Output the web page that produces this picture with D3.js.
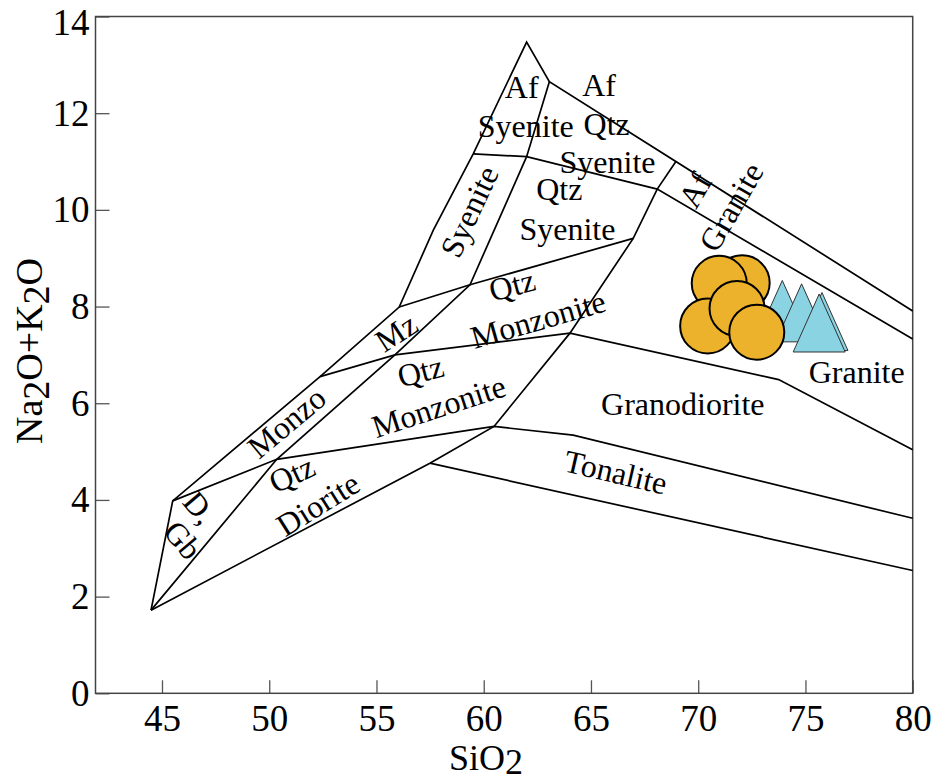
<!DOCTYPE html>
<html>
<head>
<meta charset="utf-8">
<script src="https://cdn.jsdelivr.net/npm/d3@7"></script>
<style>
  body { margin: 0; background: #fff; }
  svg { display: block; }
</style>
</head>
<body>
<div id="chart"></div>
<script>
// axis ticks
const xTicks = [45, 50, 55, 60, 65, 70, 75, 80];
const yTicks = [0, 2, 4, 6, 8, 10, 12, 14];

// field boundaries, [SiO2, Na2O+K2O]
const outerLeft = [[44.49, 1.72], [45.5, 3.98], [52.37, 6.55], [56.06, 7.99], [57.65, 9.58], [59.51, 11.16], [62.0, 13.47], [63.06, 12.65], [80, 7.91]];
const spine = [[44.49, 1.72], [50.35, 4.84], [55.86, 7.0], [59.36, 8.45], [62.0, 11.10], [63.06, 12.65]];
const qtzDioriteTop = [[45.5, 3.98], [50.35, 4.84], [60.48, 5.52], [64.17, 5.34], [80, 3.62]];
const monzoTop = [[52.37, 6.55], [55.86, 7.0], [64.02, 7.45], [73.75, 6.49], [80, 5.04]];
const mzTop = [[56.06, 7.99], [59.36, 8.45], [66.97, 9.41]];
const afSyeniteBase = [[59.51, 11.16], [62.0, 11.10], [68.09, 10.43], [80, 7.33]];
const graniteEdge = [[44.49, 1.72], [57.49, 4.76], [60.48, 5.52], [64.02, 7.45], [66.97, 9.41], [68.09, 10.43], [68.96, 11.0]];
const tonaliteBase = [[57.49, 4.76], [80, 2.54]];
const boundaries = [outerLeft, spine, qtzDioriteTop, monzoTop, mzTop, afSyeniteBase, graniteEdge, tonaliteBase];

// samples
const circleSiO2 = [72.05, 70.98, 70.44, 71.81, 72.73];
const circleAlk = [8.49, 8.48, 7.60, 7.96, 7.47];
const triSiO2 = [73.92, 74.82, 75.77, 75.64];
const triAlk = [7.94, 7.87, 7.69, 7.66];

// field names
const labels = [
  { t: 'Af', x: 61.77, y: 12.52, r: 0 },
  { t: 'Syenite', x: 61.96, y: 11.71, r: 0 },
  { t: 'Af', x: 65.38, y: 12.56, r: 0 },
  { t: 'Qtz', x: 65.73, y: 11.76, r: 0 },
  { t: 'Syenite', x: 65.77, y: 10.97, r: 0 },
  { t: 'Syenite', x: 59.36, y: 9.96, r: -65 },
  { t: 'Qtz', x: 63.52, y: 10.41, r: 0 },
  { t: 'Syenite', x: 63.9, y: 9.58, r: 0 },
  { t: 'Af', x: 69.88, y: 10.40, r: -60 },
  { t: 'Granite', x: 71.56, y: 10.05, r: -60 },
  { t: 'Qtz', x: 61.33, y: 8.43, r: -15 },
  { t: 'Monzonite', x: 62.54, y: 7.72, r: -16 },
  { t: 'Mz', x: 55.94, y: 7.45, r: -33 },
  { t: 'Qtz', x: 57.06, y: 6.65, r: -15 },
  { t: 'Monzonite', x: 57.91, y: 5.92, r: -18 },
  { t: 'Monzo', x: 50.83, y: 5.59, r: -40 },
  { t: 'Qtz', x: 51.07, y: 4.52, r: -25 },
  { t: 'Diorite', x: 52.29, y: 3.90, r: -32 },
  { t: 'D,', x: 46.73, y: 3.83, r: 50 },
  { t: 'Gb', x: 45.95, y: 3.16, r: 50 },
  { t: 'Granodiorite', x: 69.28, y: 5.96, r: 0 },
  { t: 'Tonalite', x: 66.15, y: 4.56, r: 13 },
  { t: 'Granite', x: 77.39, y: 6.63, r: 0 }
];

const serif = '"Liberation Serif", "Times New Roman", serif';
const width = 933, height = 783;

const svg = d3.select('#chart').append('svg')
  .attr('width', width)
  .attr('height', height)
  .style('font-family', serif);

const x = d3.scaleLinear().domain([41.9, 80]).range([95.5, 912.7]);
const y = d3.scaleLinear().domain([0, 14]).range([693.3, 16.5]);

// axes
const gx = svg.append('g')
  .attr('transform', `translate(0,${y(0)})`)
  .call(d3.axisBottom(x).tickValues(xTicks).tickSizeInner(-13).tickSizeOuter(0).tickPadding(11));
const gy = svg.append('g')
  .attr('transform', `translate(${x(41.9)},0)`)
  .call(d3.axisLeft(y).tickValues(yTicks).tickSizeInner(-14).tickSizeOuter(0).tickPadding(6));

[gx, gy].forEach(g => {
  g.select('.domain').remove();
  g.selectAll('.tick line').attr('stroke', '#555').attr('stroke-width', 1.3);
  g.selectAll('.tick text')
    .attr('fill', '#000')
    .style('font-family', serif)
    .style('font-size', '37px');
});
gy.selectAll('.tick').filter(d => d === 14).select('text').attr('dy', '0.48em');

// frame
svg.append('rect')
  .attr('x', x(41.9))
  .attr('y', y(14))
  .attr('width', x(80) - x(41.9))
  .attr('height', y(0) - y(14))
  .attr('fill', 'none')
  .attr('stroke', '#444')
  .attr('stroke-width', 1.5);

// boundaries
const line = d3.line().x(d => x(d[0])).y(d => y(d[1]));
svg.append('g').selectAll('path')
  .data(boundaries)
  .enter().append('path')
  .attr('d', line)
  .attr('fill', 'none')
  .attr('stroke', '#000')
  .attr('stroke-width', 1.7);

// field labels
svg.append('g').selectAll('text')
  .data(labels)
  .enter().append('text')
  .attr('transform', d => `translate(${x(d.x)},${y(d.y)}) rotate(${d.r})`)
  .attr('text-anchor', 'middle')
  .attr('dy', '0.32em')
  .style('font-size', '32px')
  .attr('fill', '#000')
  .text(d => d.t);

// triangles (drawn under circles)
const tri = 'M0,-29L26,29L-26,29Z';
svg.append('g').selectAll('path')
  .data(triSiO2.map((v, i) => [v, triAlk[i]]))
  .enter().append('path')
  .attr('d', tri)
  .attr('transform', d => `translate(${x(d[0])},${y(d[1])})`)
  .attr('fill', '#8AD3E3')
  .attr('stroke', '#333')
  .attr('stroke-width', 1);

// circles
svg.append('g').selectAll('circle')
  .data(circleSiO2.map((v, i) => [v, circleAlk[i]]))
  .enter().append('circle')
  .attr('cx', d => x(d[0]))
  .attr('cy', d => y(d[1]))
  .attr('r', 27.5)
  .attr('fill', '#EDB22B')
  .attr('stroke', '#000')
  .attr('stroke-width', 2);

// axis titles
const xt = svg.append('text')
  .attr('x', 486)
  .attr('y', 770)
  .attr('text-anchor', 'middle')
  .style('font-size', '36px');
xt.append('tspan').text('SiO');
xt.append('tspan').attr('dy', 4).text('2');

const yt = svg.append('text')
  .attr('transform', 'translate(42,351) rotate(-90)')
  .attr('text-anchor', 'middle')
  .style('font-size', '38px');
yt.append('tspan').text('Na');
yt.append('tspan').attr('dy', 7).text('2');
yt.append('tspan').attr('dy', -7).text('O+K');
yt.append('tspan').attr('dy', 7).text('2');
yt.append('tspan').attr('dy', -7).text('O');
</script>
</body>
</html>
